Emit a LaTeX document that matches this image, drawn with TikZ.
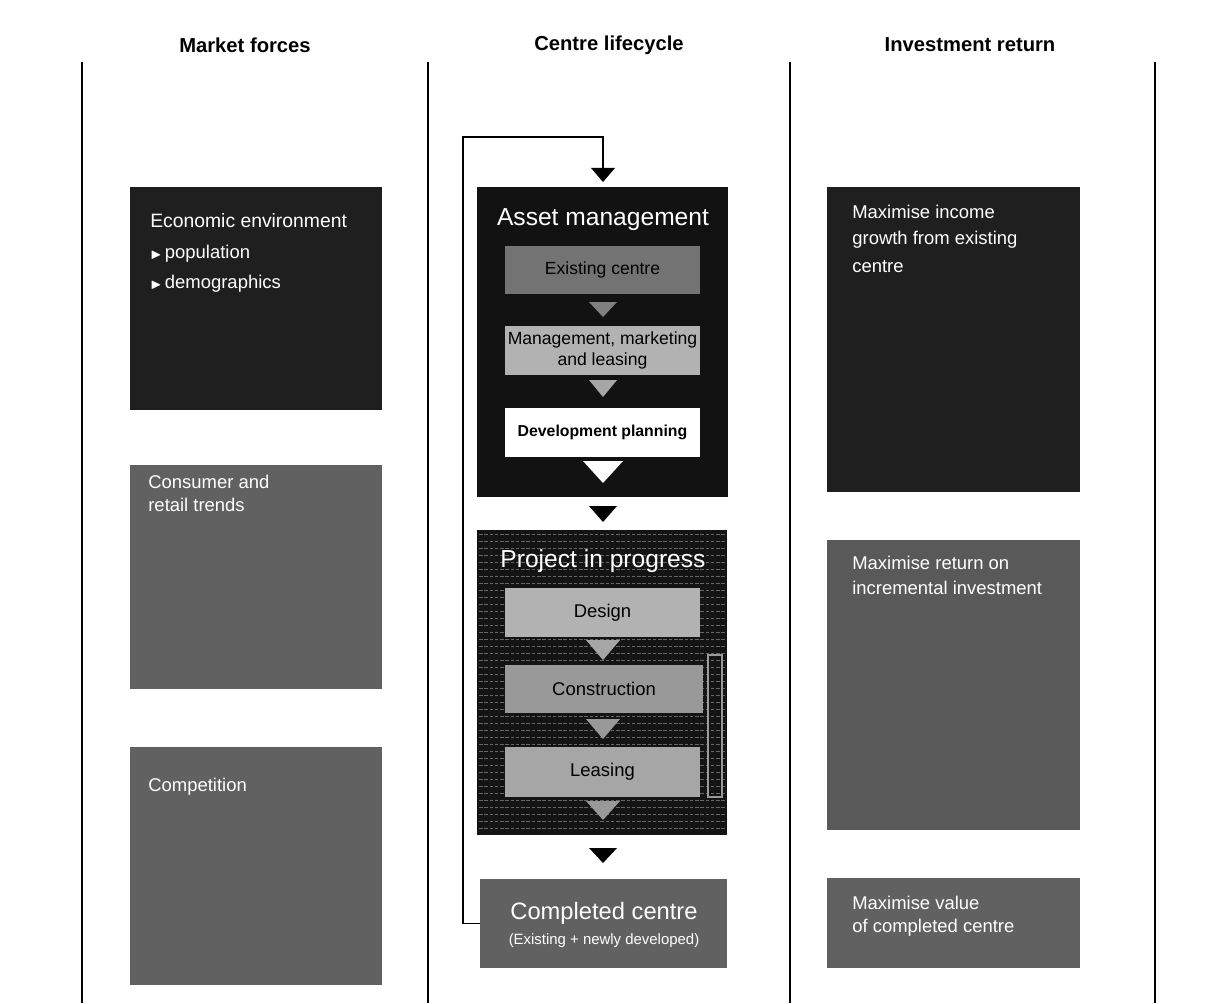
\documentclass[tikz,border=0pt]{standalone}
\usepackage{fontspec}
\setmainfont{Liberation Sans}
\usepackage{amssymb}
\usetikzlibrary{fit,calc}
\newcommand{\dtri}[5]{\fill[#5] ({#1-#3/2},#2) -- ({#1+#3/2},#2) -- (#1,{#2+#4}) -- cycle;}
\begin{document}
\begin{tikzpicture}[x=0.02cm,y=-0.02cm,
  blk/.style={inner sep=0,outer sep=0,draw=none},
  wt/.style={text=white,anchor=west,inner sep=0,font=\fontsize{10.5}{13}\selectfont},
  head/.style={inner sep=0,font=\bfseries\fontsize{11.5}{14}\selectfont},
  sub/.style={inner sep=0,text=black,align=center,font=\fontsize{10}{12}\selectfont},
  big/.style={inner sep=0,text=white,font=\fontsize{14}{16}\selectfont},
  col/.style={line width=0.7pt},
  conn/.style={line width=1pt},
]
\useasboundingbox[fill=white] (0,0) rectangle (1212,1003);

% column rules
\foreach \x in {82,428,790,1155} \draw[col] (\x,62) -- (\x,1003);

% headers
\node[head] (h1) at (245,45) {Market forces};
\node[head] (h2) at (609,45) {Centre lifecycle};
\node[head] (h3) at (970,45) {Investment return};

% ---------- left column ----------
\node[blk,fill=black!88,fit={(130,187)(382,410)}] (eco) {};
\node[wt,font=\fontsize{11}{13}\selectfont] (ecot) at (150,221) {Economic environment};
\node[wt] (pop) at (150,254) {$\scriptstyle\blacktriangleright$\,population};
\node[wt] (dem) at (150,284) {$\scriptstyle\blacktriangleright$\,demographics};

\node[blk,fill=black!62,fit={(130,465)(382,689)}] (cons) {};
\node[wt] (cons1) at (148,482) {Consumer and};
\node[wt] (cons2) at (148,505) {retail trends};

\node[blk,fill=black!62,fit={(130,747)(382,985)}] (comp) {};
\node[wt] (compt) at (148,787) {Competition};

% ---------- centre column ----------
\node[blk,fill=black!93,fit={(477,187)(728,497)}] (asset) {};
\node[big] (assett) at (603,220) {Asset management};
\node[blk,fill=black!55,fit={(505,246)(700,294)}] (exist) {};
\node[sub] (existt) at (exist.center) {Existing centre};
\dtri{603}{302}{28}{15}{black!50}
\node[blk,fill=black!30,fit={(505,326)(700,375)}] (mgmt) {};
\node[sub] (mgmtt) at (mgmt.center) {Management, marketing\\and leasing};
\dtri{603}{380}{28}{17}{black!35}
\node[blk,fill=white,fit={(505,408)(700,457)}] (dev) {};
\node[sub,font=\bfseries\fontsize{9}{11}\selectfont] (devt) at (dev.center) {Development planning};
\dtri{603}{461}{40}{22}{white}

\dtri{603}{506}{28}{16}{black}

\node[blk,fill=black!92,fit={(477,530)(727,835)}] (proj) {};
\begin{scope}
\clip (proj.north west) rectangle (proj.south east);
\foreach \y in {534,541,...,832} \draw[black!60,line width=0.3pt,dash pattern=on 2pt off 1pt] (479,\y) -- (725,\y);
\end{scope}
\node[big] (projt) at (603,561) {Project in progress};
\node[blk,fill=black!30,fit={(505,588)(700,637)}] (design) {};
\node[sub,font=\fontsize{10.5}{12}\selectfont] (designt) at (design.center) {Design};
\dtri{603}{640}{34}{20}{black!35}
\node[blk,fill=black!40,fit={(505,665)(703,713)}] (constr) {};
\node[sub,font=\fontsize{10.5}{12}\selectfont] (constrt) at (constr.center) {Construction};
\draw[black!40,line width=0.6pt] (708,655) rectangle (722,797);
\dtri{603}{719}{34}{20}{black!40}
\node[blk,fill=black!35,fit={(505,747)(700,797)}] (leas) {};
\node[sub,font=\fontsize{10.5}{12}\selectfont] (least) at (leas.center) {Leasing};
\dtri{603}{801}{34}{19}{black!40}

\dtri{603}{848}{28}{15}{black}

\node[blk,fill=black!62,fit={(480,879)(727,968)}] (done) {};
\node[big,font=\fontsize{13.5}{15}\selectfont] (donet) at (604,913) {Completed centre};
\node[inner sep=0,text=white,font=\fontsize{8.5}{10}\selectfont] (donet2) at (604,941) {(Existing + newly developed)};

% loop connector
\coordinate (loopTop) at (463,137);
\coordinate (tin) at (603,168);
\draw[conn] (done.west) -| (loopTop) -| (tin);
\dtri{603}{168}{24}{14}{black}

% ---------- right column ----------
\node[blk,fill=black!88,fit={(827,187)(1080,492)}] (r1) {};
\node[wt] (r1a) at (852,212) {Maximise income};
\node[wt] (r1b) at (852,240) {growth from existing};
\node[wt] (r1c) at (852,267) {centre};

\node[blk,fill=black!65,fit={(827,540)(1080,830)}] (r2) {};
\node[wt] (r2a) at (852,563) {Maximise return on};
\node[wt] (r2b) at (852,588) {incremental investment};

\node[blk,fill=black!62,fit={(827,878)(1080,968)}] (r3) {};
\node[wt] (r3a) at (852,903) {Maximise value};
\node[wt] (r3b) at (852,928) {of completed centre};
\end{tikzpicture}
\end{document}
